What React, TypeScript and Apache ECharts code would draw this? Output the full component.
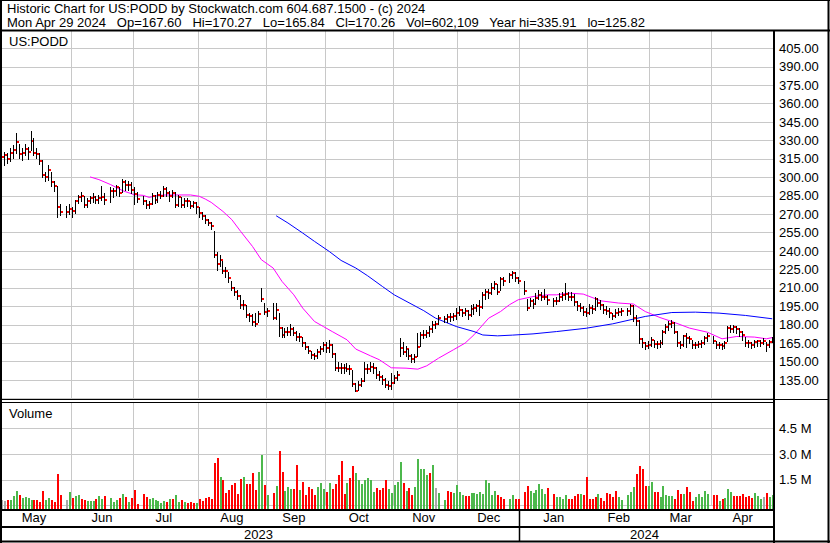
import React, { useEffect, useRef } from "react";
import * as echarts from "echarts";

const FONT = "'Liberation Sans', Arial, sans-serif";
const GRID = "#c8c8c8";

// ---- calendar: weekday slots from Apr 28 2023 to Apr 29 2024 (holidays stay as empty slots)
const START_DATE = "2023-04-28";
const END_DATE = "2024-04-29";

// ---- header texts
const title1 = "Historic Chart for US:PODD by Stockwatch.com 604.687.1500 - (c) 2024";
const title2 = "Mon Apr 29 2024  Op=167.60  Hi=170.27  Lo=165.84  Cl=170.26  Vol=602,109  Year hi=335.91  lo=125.82";
const symbolLabel = "US:PODD";
const volumeLabel = "Volume";
const years = ["2023", "2024"];

// ---- month grid lines (slot index) and month labels
const monthGridSlots = [24, 45, 67, 90, 110, 133, 155, 176, 199, 220, 241];
const monthNames = ["May", "Jun", "Jul", "Aug", "Sep", "Oct", "Nov", "Dec", "Jan", "Feb", "Mar", "Apr"];
const monthLabelSlots = [11, 34, 55, 78, 99, 121, 143, 165, 187, 209, 230, 251];

// ---- price axis / volume axis ticks
const priceMin = 120, priceMax = 420, priceStep = 15;
const volMax = 6, volStep = 1.5; // millions

// ---- daily bars [high, low, close]; null = market holiday
const ohlcApr23 = [[322, 312, 317]];
const ohlcMay23 = [
  [321, 310, 318], [320, 312, 315], [324, 313, 320], [326, 316, 322], [336, 320, 329], [327, 316, 319], [324, 314, 320], [327, 318, 323], [325, 315, 321], [338, 322, 330],
  [332, 318, 320], [324, 316, 319], [320, 311, 313], [314, 300, 302], [304, 297, 300], [310, 298, 306], [304, 293, 296], [297, 289, 293], [293, 268, 276], [278, 269, 272],
  null, [277, 268, 272], [278, 270, 274],
];
const ohlcJun23 = [
  [276, 268, 272.6], [282, 271, 280.5], [286, 279, 283.7], [288, 281, 285.1], [285, 276, 277.8], [283, 276, 280.5], [285, 279, 283.2], [287, 280, 283.7], [285, 279, 281.3], [286, 279, 282.9],
  [293, 282, 284], [287, 278, 282], null, [292, 280, 288.6], [291, 284, 288.6], [294, 286, 292], [292, 285, 287.3], [299, 288, 296], [298, 290, 293.5], [297, 290, 294.1],
  [296, 287, 290], [292, 278, 286.5],
];
const ohlcJul23 = [
  [288, 280, 282.7], null, [285, 278, 281], [282, 275, 277.2], [281, 275, 278.3], [287, 278, 285], [286, 279, 281.6], [288, 280, 286], [289, 283, 285], [293, 285, 290.3],
  [292, 285, 287.5], [289, 281, 285], [290, 284, 287], [288, 276, 277.8], [286, 277, 284.3], [284, 276, 277.8], [283, 276, 281], [283, 277, 280.5], [281, 275, 277], [281, 276, 279],
  [280, 271, 276],
];
const ohlcAug23 = [
  [276, 268, 270.7], [272, 266, 268.6], [269, 263, 265], [266, 261, 262.5], [264, 258, 260.1], [256, 235, 237], [239, 225, 229.1], [237, 228, 233], [232, 222, 224.2], [227, 219, 223.7],
  [223, 215, 218.5], [216, 208, 209.9], [211, 204, 206.9], [208, 201, 203.6], [204, 194, 196], [200, 193, 196.5], [196, 186, 187.6], [190, 183, 186.8], [189, 180, 181.9], [190, 179, 180.8],
  [191, 182, 188.4], [210, 199, 200.9], [198, 189, 190.6],
];
const ohlcSep23 = [
  [194, 187, 191.6], null, [198, 185, 185.9], [198, 185, 192.2], [190, 171, 177.5], [178, 170, 171.6], [177, 170, 174.3], [178, 172, 174.3], [181, 172, 176.5], [178, 172, 173.7],
  [175, 168, 169.9], [173, 167, 170.3], [170, 163, 165.1], [166, 160, 162.3], [163, 157, 159], [159, 153, 155.3], [157, 152, 154.2], [160, 153, 158], [163, 156, 160.7], [166, 159, 163.7],
  [166, 158, 161],
];
const ohlcOct23 = [
  [168, 158, 163.5], [164, 154, 156], [157, 143, 145.2], [150, 142, 144.7], [149, 141, 144.5], [148, 141, 144.6], [149, 142, 144.4], [147, 140, 144.2], [143, 130, 131.9], [133, 125.82, 126.2],
  [134, 127, 131.1], [137, 130, 134.6], [150, 134, 144.4], [148, 141, 144], [150, 142, 145.5], [149, 141, 145], [146, 137, 138.9], [142, 135, 137.1], [139, 132, 134.9], [137, 129, 130.8],
  [134, 128, 130.3], [141, 128, 133],
];
const ohlcNov23 = [
  [139, 133, 136.5], [142, 135, 139.5], [169, 155, 161], [166, 156, 158.2], [163, 155, 160.2], [160, 152, 154.7], [156, 150, 152], [156, 150, 154.1], [173, 155, 162.3], [174, 163, 171.8],
  [176, 169, 172], [176, 170, 173.2], [179, 171, 176.5], [183, 174, 180], [183, 177, 180.8], [188, 181, 185.4], null, [187, 182, 185], [189, 182, 186.3], [190, 183, 186],
  [190, 184, 187], [194, 185, 189.5],
];
const ohlcDec23 = [
  [195, 188, 192.2], [193, 187, 190], [194, 188, 191], [192, 185, 188.1], [196, 187, 193], [197, 189, 194], [197, 191, 195], [200, 188, 194.5], [207, 194, 203.9], [209, 201, 206.6],
  [209, 202, 206], [214, 205, 209.9], [216, 209, 213.1], [213, 205, 207.1], [219, 208, 217.5], [219, 212, 215.9], null, [222, 215, 220.2], [224, 218, 222.1], [223, 216, 218.5],
  [219, 214, 215.9],
];
const ohlcJan24 = [
  null, [216, 205, 207.9], [201, 192, 193.6], [202, 195, 199], [201, 194, 196.9], [206, 197, 201.7], [208, 201, 204.4], [207, 200, 203], [209, 201, 203], [204, 197, 199.8],
  null, [202, 195, 199], [203, 197, 199.5], [206, 199, 202.6], [207, 200, 203.9], [214, 201, 205], [207, 200, 203], [207, 200, 203], [205, 196, 198.2], [199, 192, 194.9],
  [198, 191, 194], [195, 188, 190.8], [194, 187, 190],
];
const ohlcFeb24 = [
  [197, 189, 193.6], [196, 190, 192.5], [203, 192, 201.2], [202, 195, 197.9], [200, 193, 196.3], [197, 190, 192.2], [195, 189, 191.4], [194, 186, 189.5], [190, 185, 186.8], [193, 186, 189.5],
  [194, 188, 190.3], [194, 188, 191.4], null, [194, 188, 191.4], [197, 189, 195.7], [196, 183, 185.5], [188, 180, 183.2], [184, 165, 168.3], [169, 162, 165.1], [166, 160, 162.6],
  [167, 161, 163.7],
];
const ohlcMar24 = [
  [170, 163, 167.8], [168, 162, 164.5], [167, 161, 164.1], [168, 162, 165], [176, 164, 174.5], [181, 173, 178.6], [183, 176, 180.6], [184, 178, 181.4], [182, 173, 174.5], [175, 163, 165.1],
  [167, 161, 163.7], [172, 163, 170.5], [173, 162, 169.1], [171, 165, 168.6], [168, 161, 163.7], [166, 161, 163.7], [167, 162, 164], [168, 162, 165.1], [171, 164, 169.1], [173, 167, 170.5],
  null,
];
const ohlcApr24 = [
  [171, 165, 167], [167, 161, 163.7], [166, 161, 163.5], [165, 160, 163.1], [167, 161, 165.1], [179, 167, 177.3], [180, 174, 176.5], [180, 174, 178.6], [179, 173, 176.7], [177, 171, 174.5],
  [175, 168, 172], [170, 163, 165.1], [168, 162, 165], [166, 161, 163.7], [168, 162, 166.1], [168, 163, 166.6], [168, 163, 165.5], [169, 164, 166.6], [166, 159, 163.7], [168, 162, 166],
  [170.27, 165.84, 170.26],
];

// ---- daily volume (millions); null = holiday.  colour code: g up, r down, n unchanged, - none
const volApr23 = [0.3];
const dirApr23 = "n";
const volMay23 = [0.27, 0.32, 0.32, 0.56, 0.85, 0.62, 0.46, 0.5, 0.42, 0.32, 0.32, 0.32, 0.2, 0.85, 0.32, 0.44, 0.32, 0.2, 1.85, 0.62, null, 0.32, 0.79];
const dirMay23 = "nrgggrggggrrrrggrrrr-ng";
const volJun23 = [0.44, 0.56, 0.62, 0.38, 0.32, 0.26, 0.26, 0.26, 0.38, 0.56, 0.38, 0.56, null, 0.44, 0.2, 0.32, 0.44, 0.68, 0.5, 0.2, 0.44, 0.91];
const dirJun23 = "rggrrgggrggr-gggrgrgrr";
const volJul23 = [0.09, null, 0.68, 0.5, 0.38, 0.44, 0.32, 0.26, 0.15, 0.26, 0.2, 0.38, 0.38, 0.62, 0.2, 0.32, 0.2, 0.15, 0.2, 0.15, 0.15];
const dirJul23 = "r-rrggggggrgrggrgrrrg";
const volAug23 = [0.38, 0.26, 0.44, 0.5, 0.38, 2.5, 2.74, 1.68, 1.5, 0.74, 0.91, 1.17, 1.32, 0.68, 1.56, 1.68, 1.26, 1.26, 1.91, 0.91, 1.97, 2.97, 1.21];
const dirAug23 = "rrrrrrrgrrrrrrrgrrrrggr";
const volSep23 = [0.62, null, 0.74, 1.15, 3.2, 1.93, 0.85, 1.09, 0.97, 0.97, 2.38, 0.91, 1.38, 0.62, 1.09, 0.97, 0.62, 1.09, 1.32, 0.97, 0.79];
const dirSep23 = "g-rgrrgggrrgrrrrrgggr";
const volOct23 = [1.32, 0.97, 1.26, 1.79, 2.62, 0.68, 1.32, 1.62, 2.32, 1.91, 1.5, 1.26, 1.5, 1.62, 1.5, 0.79, 1.03, 0.91, 1.03, 1.5, 0.97, 0.74];
const dirOct23 = "grrrrrgrrgggggggrrrrgg";
const volNov23 = [1.21, 1.38, 2.56, 1.32, 0.85, 1.03, 0.62, 1.09, 2.68, 2.15, 2.15, 1.79, 1.91, 2.38, 1.03, 0.74, null, 0.32, 0.85, 0.79, 0.74, 1.21];
const dirNov23 = "gggrgrrgggggrgng-grrgg";
const volDec23 = [0.79, 0.62, 0.56, 0.56, 0.74, 0.74, 0.68, 0.79, 0.68, 1.5, 1.32, 0.62, 0.85, 0.62, 0.5, 0.38, null, 0.38, 0.62, 0.38, 0.38];
const dirDec23 = "ggrrgggggggggrrr-ggrr";
const volJan24 = [null, 0.79, 1.15, 0.85, 0.74, 0.91, 1.26, 0.97, 0.68, 1.03, null, 0.68, 0.5, 0.5, 0.38, 0.62, 0.38, 0.38, 0.56, 0.68, 0.68, 0.62, 1.68];
const dirJan24 = "-rrggggggr-rggggrrrrgrr";
const volFeb24 = [0.38, 0.38, 0.5, 0.68, 0.44, 0.26, 0.74, 0.68, 0.5, 0.85, 0.5, 0.32, null, 0.62, 0.79, 1.09, 1.85, 2.32, 2.15, 1.15, 1.15];
const dirFeb24 = "rrrgrrrrrrgg-gggrrrrg";
const volMar24 = [1.38, 0.79, 0.79, 0.5, 1.15, 0.62, 0.56, 0.56, 0.38, 0.91, 0.68, 0.68, 1.09, 0.79, 0.26, 0.5, 0.68, 0.5, 0.85, 0.68, null];
const dirMar24 = "grrgggggrrrgrrrggggg-";
const volApr24 = [0.62, 0.62, 0.26, 0.38, 0.44, 0.97, 0.79, 0.56, 0.56, 0.56, 0.68, 0.5, 0.56, 0.44, 0.74, 0.56, 0.38, 0.5, 0.74, 0.5, 0.602109];
const dirApr24 = "rrgrgggrrrrrrrgggnrgg";

// ---- moving averages: [slot, value]
const maShort = [
  [30, 300.4], [33, 298.2], [37, 294.1], [41, 289.2], [45, 285.9], [48, 285.4], [50, 283.7], [53, 285.4], [56, 285.7], [60, 285.7],
  [64, 285.7], [67, 284.6], [69, 282.4], [71, 279.7], [75, 272.3], [78, 265.6], [81, 256], [85, 243.8], [88, 233], [92, 226.2],
  [95, 215.3], [99, 204.4], [102, 193.6], [106, 182.7], [109, 178.6], [112, 174.5], [115, 170.5], [117, 167.8], [120, 160.2], [125, 154.7],
  [128, 151.5], [132, 145], [137, 144.7], [141, 143.9], [144, 146.6], [148, 152.8], [153, 159.6], [157, 165.1], [160, 171.8], [162, 177.3],
  [165, 185.4], [169, 190.8], [172, 196.3], [175, 200.4], [180, 203], [185, 204.4], [188, 204.4], [192, 205.8], [197, 205], [203, 199.5],
  [209, 197.7], [214, 196.9], [218, 190.8], [223, 185.9], [227, 182.7], [233, 177.3], [239, 174], [244, 168.6], [249, 170.5], [255, 170],
  [259, 168.6], [261, 169.6],
];
const maLong = [
  [93, 268.8], [97, 262.9], [102, 254.7], [106, 247.9], [111, 239.7], [115, 232.4], [120, 226.2], [124, 219.9], [129, 211.2], [133, 204.4],
  [143, 191.5], [147, 185.4], [154, 178.6], [160, 174.5], [163, 171.7], [168, 171], [173, 171.6], [180, 172.6], [188, 174.5], [198, 177.2],
  [207, 180.8], [218, 186.8], [227, 190], [235, 190.3], [243, 189.5], [252, 187.6], [261, 184.9],
];

const ohlcAll = [
  ...ohlcApr23, ...ohlcMay23, ...ohlcJun23, ...ohlcJul23, ...ohlcAug23, ...ohlcSep23,
  ...ohlcOct23, ...ohlcNov23, ...ohlcDec23, ...ohlcJan24, ...ohlcFeb24, ...ohlcMar24, ...ohlcApr24,
];
const volAll = [
  ...volApr23, ...volMay23, ...volJun23, ...volJul23, ...volAug23, ...volSep23,
  ...volOct23, ...volNov23, ...volDec23, ...volJan24, ...volFeb24, ...volMar24, ...volApr24,
];
const dirAll =
  dirApr23 + dirMay23 + dirJun23 + dirJul23 + dirAug23 + dirSep23 + dirOct23 + dirNov23 + dirDec23 + dirJan24 + dirFeb24 + dirMar24 + dirApr24;

function weekdaySlots(start: string, end: string): string[] {
  const out: string[] = [];
  const d = new Date(start + "T00:00:00Z");
  const e = new Date(end + "T00:00:00Z");
  while (d.getTime() <= e.getTime()) {
    const w = d.getUTCDay();
    if (w !== 0 && w !== 6) out.push(d.toISOString().slice(0, 10));
    d.setUTCDate(d.getUTCDate() + 1);
  }
  return out;
}

// the source renders its field separators a little wider than two spaces
const keepSpaces = (s: string) => s.replace(/  /g, " \u00a0 ");

const VOL_COLORS: Record<string, string> = { g: "#4cb84c", r: "#ff0000", n: "#a8a8a8" };

export default function App() {
  const ref = useRef<HTMLDivElement>(null);
  useEffect(() => {
    if (!ref.current) return;
    const chart = echarts.init(ref.current, undefined, { renderer: "svg" });
    const cats = weekdaySlots(START_DATE, END_DATE);
    const gridSet = new Set(monthGridSlots);
    const labelMap: Record<number, string> = {};
    monthLabelSlots.forEach((s, k) => (labelMap[s] = monthNames[k]));

    const priceData: number[][] = [];
    ohlcAll.forEach((b, i) => {
      if (b) priceData.push([i, b[0], b[1], b[2]]);
    });
    const volData: number[][] = [];
    volAll.forEach((v, i) => {
      if (v != null) {
        const c = dirAll[i];
        volData.push([i, v * 1e6, c === "g" ? 1 : c === "r" ? -1 : 0]);
      }
    });

    const txt = (text: string, x: number, y: number, align = "left") => ({
      type: "text",
      x,
      y,
      z: 110,
      style: {
        text,
        fill: "#000",
        font: `13px ${FONT}`,
        align,
        verticalAlign: "middle",
        textAlign: align,
        textVerticalAlign: "middle",
      },
    });
    const ln = (x1: number, y1: number, x2: number, y2: number, w: number) => ({
      type: "line",
      z: 100,
      shape: { x1, y1, x2, y2 },
      style: { stroke: "#000", lineWidth: w },
    });

    const xBase = {
      type: "category",
      data: cats,
      boundaryGap: true,
      axisLine: { show: false },
      axisTick: { show: false },
      splitLine: {
        show: true,
        interval: (idx: number) => gridSet.has(idx),
        lineStyle: { color: GRID, width: 1 },
      },
    };

    const option: any = {
      animation: false,
      backgroundColor: "#ffffff",
      grid: [
        { left: 0, right: 56.3, top: 30, height: 368.5 },
        { left: 0, right: 56.3, top: 402.5, height: 103 },
      ],
      xAxis: [
        { ...xBase, gridIndex: 0, axisLabel: { show: false } },
        {
          ...xBase,
          gridIndex: 1,
          axisLabel: {
            show: true,
            interval: (idx: number) => labelMap[idx] !== undefined,
            formatter: (_v: string, idx: number) => labelMap[idx] || "",
            margin: 12,
            verticalAlign: "middle",
            color: "#000",
            fontSize: 13,
            fontFamily: FONT,
          },
        },
      ],
      yAxis: [
        {
          type: "value",
          gridIndex: 0,
          position: "right",
          min: priceMin,
          max: priceMax,
          interval: priceStep,
          axisLine: { show: false },
          axisTick: { show: false },
          axisLabel: {
            formatter: (v: number) => v.toFixed(2),
            showMinLabel: false,
            showMaxLabel: false,
            margin: 5.3,
            color: "#000",
            fontSize: 13,
            fontFamily: FONT,
          },
          splitLine: { show: true, lineStyle: { color: GRID, width: 1 } },
        },
        {
          type: "value",
          gridIndex: 1,
          position: "right",
          min: 0,
          max: volMax * 1e6,
          interval: volStep * 1e6,
          axisLine: { show: false },
          axisTick: { show: false },
          axisLabel: {
            formatter: (v: number) => (v / 1e6).toFixed(1) + " M",
            showMinLabel: false,
            showMaxLabel: false,
            margin: 5.3,
            color: "#000",
            fontSize: 13,
            fontFamily: FONT,
          },
          splitLine: { show: true, lineStyle: { color: GRID, width: 1 } },
        },
      ],
      series: [
        {
          type: "line",
          name: "MA short",
          xAxisIndex: 0,
          yAxisIndex: 0,
          data: maShort,
          showSymbol: false,
          symbol: "none",
          connectNulls: true,
          lineStyle: { color: "#ff00ff", width: 1 },
          z: 3,
        },
        {
          type: "line",
          name: "MA long",
          xAxisIndex: 0,
          yAxisIndex: 0,
          data: maLong,
          showSymbol: false,
          symbol: "none",
          connectNulls: true,
          lineStyle: { color: "#0000ff", width: 1 },
          z: 3,
        },
        {
          type: "custom",
          name: "price",
          xAxisIndex: 0,
          yAxisIndex: 0,
          data: priceData,
          encode: { x: 0, y: [1, 2, 3] },
          z: 4,
          renderItem: (_p: any, api: any) => {
            const i = api.value(0);
            const pH = api.coord([i, api.value(1)]);
            const pL = api.coord([i, api.value(2)]);
            const pC = api.coord([i, api.value(3)]);
            const col = Math.floor(pH[0]);
            return {
              type: "group",
              children: [
                {
                  type: "line",
                  shape: { x1: col + 0.5, y1: Math.round(pH[1]), x2: col + 0.5, y2: Math.round(pL[1]) + 1 },
                  style: { stroke: "#000", lineWidth: 1 },
                },
                {
                  type: "rect",
                  shape: { x: col + 1, y: Math.round(pC[1]) - 1, width: 2, height: 2 },
                  style: { fill: "#ff0000" },
                },
              ],
            };
          },
        },
        {
          type: "custom",
          name: "volume",
          xAxisIndex: 1,
          yAxisIndex: 1,
          data: volData,
          encode: { x: 0, y: 1 },
          z: 4,
          renderItem: (_p: any, api: any) => {
            const i = api.value(0);
            const top = api.coord([i, api.value(1)]);
            const base = api.coord([i, 0]);
            const d = api.value(2);
            const col = Math.floor(top[0]);
            const y0 = Math.round(top[1]);
            const y1 = Math.round(base[1] + 3.5);
            return {
              type: "rect",
              shape: { x: col, y: y0, width: 2, height: Math.max(1, y1 - y0) },
              style: { fill: d > 0 ? VOL_COLORS.g : d < 0 ? VOL_COLORS.r : VOL_COLORS.n },
            };
          },
        },
      ],
      graphic: [
        ln(0, 0.5, 830, 0.5, 1),
        ln(0, 30.5, 830, 30.5, 2),
        ln(1, 0, 1, 543, 2),
        ln(774, 30, 774, 543, 2),
        ln(828.5, 0, 828.5, 543, 2),
        ln(0, 399.5, 829, 399.5, 1),
        ln(0, 402.5, 774, 402.5, 1),
        ln(0, 510, 774, 510, 2),
        ln(0, 527, 774, 527, 2),
        ln(0, 541.5, 830, 541.5, 2),
        ln(519.5, 510, 519.5, 541, 1.5),
        txt(title1, 7, 8.8),
        txt(keepSpaces(title2), 7, 22.8),
        txt(symbolLabel, 9, 41.5),
        txt(volumeLabel, 9, 413.5),
        txt(years[0], 258.5, 534.5, "center"),
        txt(years[1], 644.5, 534.5, "center"),
      ],
    };
    chart.setOption(option);
    return () => chart.dispose();
  }, []);
  return (
    <div
      ref={ref}
      style={{ position: "fixed", left: 0, top: 0, width: 830, height: 543, background: "#fff" }}
    />
  );
}
